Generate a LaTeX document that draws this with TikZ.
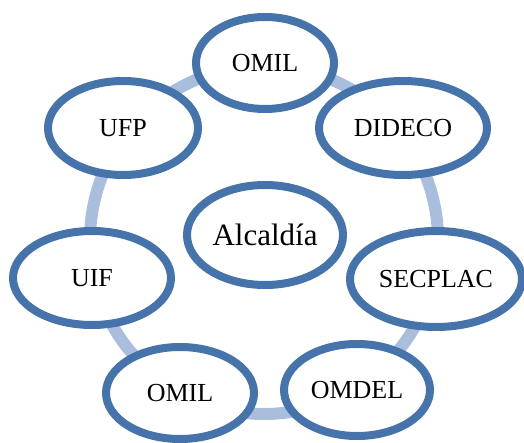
\documentclass[tikz,border=0pt]{standalone}
\usepackage{fontspec}
\setmainfont{Liberation Serif}
\usetikzlibrary{shapes.geometric,shadows}
\definecolor{ringblue}{HTML}{A9BEDC}
\definecolor{edgeblue}{HTML}{4573AA}
\tikzset{
  unit/.style={ellipse, draw=edgeblue, line width=8pt, fill=white, inner sep=0pt,
    font=\fontsize{26}{30}\selectfont,
    drop shadow={shadow xshift=1.5pt, shadow yshift=-3pt, opacity=0.18, fill=black}},
  ringline/.style={draw=ringblue, line width=12pt}
}
\begin{document}
\begin{tikzpicture}[x=1pt,y=-1pt]
\useasboundingbox (0,0) rectangle (524,443);
\coordinate (c) at (264,240);
\draw[ringline] (c) circle[radius=174];
\node[unit, minimum width=138, minimum height=92] (omiltop) at (265,63) {OMIL};
\node[unit, minimum width=168, minimum height=94] (dideco) at (403,128) {DIDECO};
\node[unit, minimum width=150, minimum height=94] (ufp) at (123,128) {UFP};
\node[unit, minimum width=156, minimum height=100, font=\fontsize{31}{36}\selectfont] (alcaldia) at (265,235) {Alcaldía};
\node[unit, minimum width=158, minimum height=94] (uif) at (92,278) {UIF};
\node[unit, minimum width=172, minimum height=96] (secplac) at (436,279) {SECPLAC};
\node[unit, minimum width=148, minimum height=92] (omilbot) at (180,393) {OMIL};
\node[unit, minimum width=146, minimum height=92] (omdel) at (357,390) {OMDEL};
\end{tikzpicture}
\end{document}
